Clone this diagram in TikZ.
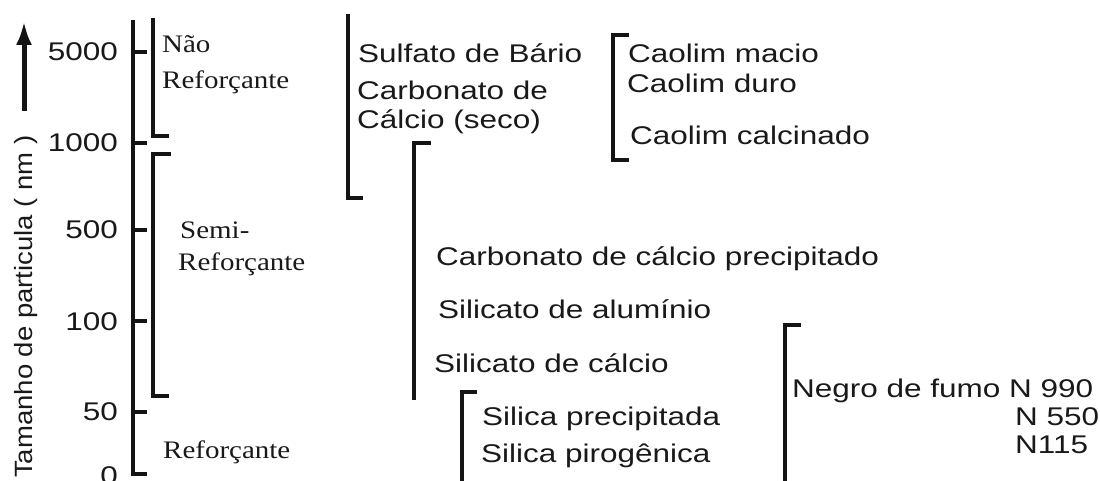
\documentclass[tikz,border=0pt]{standalone}
\usepackage{fontspec}
\setmainfont{Liberation Sans}[FakeStretch=1.23]
\newfontfamily\serifA{Liberation Serif}[FakeStretch=1.15]
\newfontfamily\sansrot{Liberation Sans}[FakeStretch=1.1]
\usetikzlibrary{arrows.meta}
\begin{document}
\begin{tikzpicture}[x=1pt,y=-1pt,
  brk/.style={line width=4.8pt,line join=miter,line cap=rect,color=black!92},
  lab/.style={anchor=base west,inner sep=0pt,font=\fontsize{25.6}{30}\selectfont,text=black!90},
  num/.style={anchor=base east,inner sep=0pt,font=\fontsize{25.6}{30}\selectfont,text=black!90},
  cls/.style={anchor=base west,inner sep=0pt,font=\serifA\fontsize{25.2}{30}\selectfont,text=black!90}]
\useasboundingbox (0,0) rectangle (1100,481);
% axis label and arrow
\node[anchor=base west,inner sep=0pt,rotate=90,font=\sansrot\fontsize{25}{30}\selectfont,text=black!90] (axlab) at (32,478) {Tamanho de particula ( nm )};
\coordinate (arrA) at (24,111);
\coordinate (arrB) at (24,21);
\draw[line width=5pt,-{Latex[length=24pt,width=16pt]},color=black!92] (arrA) -- (arrB);
% main axis
\draw[brk,line cap=butt] (133,20) -- (133,474) -- (147,474);
\foreach \yy in {52,143,230,321,412} \draw[brk,line cap=butt] (133,\yy) -- (147,\yy);
\node[num] (t5000) at (118,61) {5000};
\node[num] (t1000) at (118,152) {1000};
\node[num] (t500) at (118,239) {500};
\node[num] (t100) at (118,330) {100};
\node[num] (t50) at (118,420) {50};
\node[num] (t0) at (118,484) {0};
% class brackets
\draw[brk] (153,20) -- (153,136) -- (167,136);
\draw[brk] (169,154) -- (153,154) -- (153,396) -- (167,396);
\node[cls] (nao) at (162,53) {Não};
\node[cls] (naoR) at (162,89) {Reforçante};
\node[cls] (semi) at (180,239) {Semi-};
\node[cls] (semiR) at (178,270) {Reforçante};
\node[cls] (refR) at (163,458) {Reforçante};
% filler brackets
\draw[brk] (348,16) -- (348,198) -- (361,198);
\draw[brk] (429,143) -- (414,143) -- (414,398);
\draw[brk] (627,35) -- (613,35) -- (613,160) -- (627,160);
\draw[brk] (475,392) -- (462,392) -- (462,485);
\draw[brk] (799,325) -- (785,325) -- (785,485);
% filler texts
\node[lab] (sulf) at (358,63) {Sulfato de Bário};
\node[lab] (carb1) at (357,100) {Carbonato de};
\node[lab] (carb2) at (357,129) {Cálcio (seco)};
\node[lab] (cao1) at (628,63) {Caolim macio};
\node[lab] (cao2) at (627,93) {Caolim duro};
\node[lab] (cao3) at (630,145) {Caolim calcinado};
\node[lab] (ccp) at (436,265) {Carbonato de cálcio precipitado};
\node[lab] (sal) at (438,318) {Silicato de alumínio};
\node[lab] (sca) at (434,372) {Silicato de cálcio};
\node[lab] (sp) at (482,425) {Silica precipitada};
\node[lab] (spi) at (481,462) {Silica pirogênica};
\node[lab] (neg) at (792,397) {Negro de fumo N 990};
\node[lab] (n550) at (1015,425) {N 550};
\node[lab] (n115) at (1015,453) {N115};
\end{tikzpicture}
\end{document}
